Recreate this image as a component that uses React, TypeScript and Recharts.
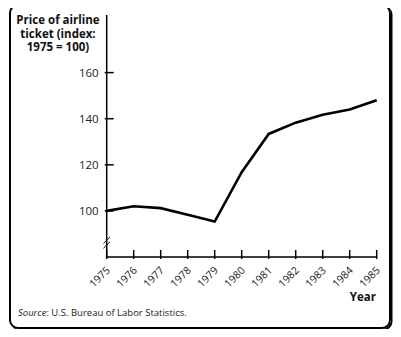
import { LineChart, Line, XAxis, YAxis, ReferenceLine } from 'recharts'

const years = [1975, 1976, 1977, 1978, 1979, 1980, 1981, 1982, 1983, 1984, 1985]
const priceIndex = [100, 102, 101.2, 98.3, 95.4, 116.8, 133.4, 138.3, 141.7, 144, 148]
const yTicks = [100, 120, 140, 160]

const data = years.map((year, i) => ({ year, price: priceIndex[i] }))

const FONT = '"Open Sans", "DejaVu Sans", sans-serif'

const YTick = ({ x, y, payload }: any) => (
  <g>
    <path d={`M${x},${y} L${x + 9},${y}`} stroke="#000" strokeWidth={1.5} />
    <text x={x - 6} y={y + 4} textAnchor="end" fontSize={11.5} fill="#222" fontFamily={FONT}>
      {payload.value}
    </text>
  </g>
)

const XTick = ({ x, y, payload }: any) => (
  <g>
    <path d={`M${x},${y} L${x},${y - 9}`} stroke="#000" strokeWidth={1.5} />
    <text
      x={x + 4}
      y={y + 12}
      textAnchor="end"
      fontSize={10.5}
      fill="#222"
      fontFamily={FONT}
      transform={`rotate(-45 ${x + 4} ${y + 12})`}
    >
      {payload.value}
    </text>
  </g>
)

export default function App() {
  return (
    <div style={{ position: 'relative', margin: -8, width: 401, height: 337, background: '#fff' }}>
      <div
        style={{
          position: 'absolute',
          left: 9,
          top: 4,
          width: 378,
          height: 321,
          border: '2px solid #000',
          borderRadius: 9,
          boxShadow: '1.5px 1.5px 0 #000',
        }}
      />
      <div
        style={{
          position: 'absolute',
          left: 12,
          top: 13,
          width: 92,
          textAlign: 'center',
          fontFamily: FONT,
          fontWeight: 700,
          fontSize: 11.5,
          lineHeight: '13.5px',
          color: '#111',
        }}
      >
        Price of airline ticket (index: 1975 = 100)
      </div>
      <div
        style={{
          position: 'absolute',
          right: 25,
          top: 289,
          fontFamily: FONT,
          fontWeight: 700,
          fontSize: 11.5,
          color: '#111',
        }}
      >
        Year
      </div>
      <div
        style={{
          position: 'absolute',
          left: 18,
          top: 306,
          fontFamily: FONT,
          fontSize: 9.5,
          color: '#222',
        }}
      >
        <i>Source</i>: U.S. Bureau of Labor Statistics.
      </div>
      <div style={{ position: 'absolute', left: 0, top: 0 }}>
        <LineChart width={401} height={337} data={data} margin={{ top: 15, right: 24.3, bottom: 40, left: 56.7 }}>
          <XAxis
            dataKey="year"
            type="number"
            domain={[1975, 1985]}
            ticks={years}
            tickSize={0}
            tick={XTick}
            height={40}
            axisLine={{ stroke: '#000', strokeWidth: 1.5 }}
            interval={0}
          />
          <YAxis
            domain={[80, 185]}
            ticks={yTicks}
            tickSize={0}
            tick={YTick}
            width={50}
            axisLine={{ stroke: '#000', strokeWidth: 1.5 }}
            interval={0}
          />
          <ReferenceLine
            segment={[
              { x: 1975, y: 84 },
              { x: 1975, y: 88.5 },
            ]}
            stroke="#fff"
            strokeWidth={4}
            ifOverflow="visible"
          />
          <ReferenceLine
            segment={[
              { x: 1974.88, y: 83.8 },
              { x: 1975.12, y: 86.6 },
            ]}
            stroke="#000"
            strokeWidth={1}
            ifOverflow="visible"
          />
          <ReferenceLine
            segment={[
              { x: 1974.88, y: 85.9 },
              { x: 1975.12, y: 88.7 },
            ]}
            stroke="#000"
            strokeWidth={1}
            ifOverflow="visible"
          />
          <Line
            dataKey="price"
            stroke="#000"
            strokeWidth={2.6}
            dot={false}
            isAnimationActive={false}
          />
        </LineChart>
      </div>
    </div>
  )
}
